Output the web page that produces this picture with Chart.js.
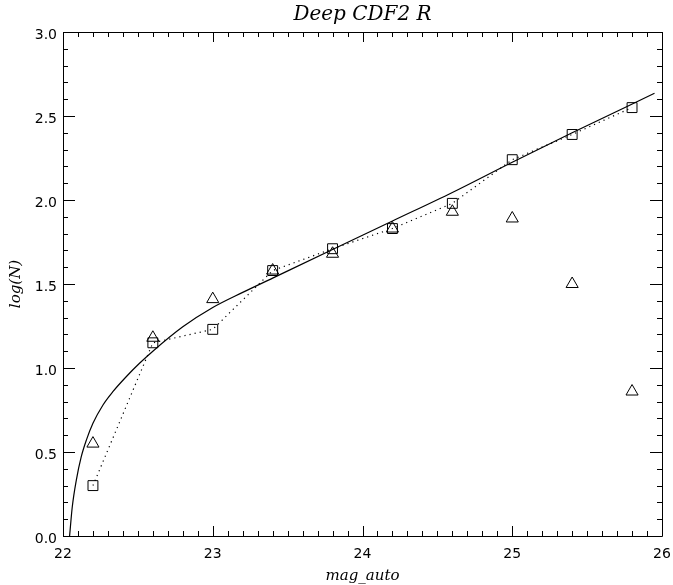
<!DOCTYPE html>
<html>
<head>
<meta charset="utf-8">
<script src="https://cdn.jsdelivr.net/npm/chart.js@4.4.1/dist/chart.umd.min.js"></script>
<style>
  html, body { margin: 0; padding: 0; background: #fff; }
  #chart { display: block; }
</style>
</head>
<body>
<canvas id="chart" width="673" height="585"></canvas>
<script>
// datos
const magBins = [22.2, 22.6, 23.0, 23.4, 23.8, 24.2, 24.6, 25.0, 25.4, 25.8];
const logNSquares = [0.30, 1.15, 1.23, 1.58, 1.71, 1.83, 1.98, 2.24, 2.39, 2.55];
const logNTriangles = [0.55, 1.18, 1.41, 1.58, 1.68, 1.83, 1.93, 1.89, 1.50, 0.86];
const fitMag = [22.044, 22.062, 22.089, 22.122, 22.156, 22.20, 22.267, 22.333, 22.422, 22.511, 22.60, 22.80, 23.0, 23.2, 23.4, 23.8, 24.2, 24.6, 25.0, 25.4, 25.95];
const fitLogN = [0.0, 0.174, 0.333, 0.472, 0.571, 0.671, 0.78, 0.859, 0.948, 1.028, 1.10, 1.245, 1.36, 1.45, 1.535, 1.705, 1.875, 2.045, 2.225, 2.40, 2.635];
const xTicks = [22, 23, 24, 25, 26];
const yTicks = [0.0, 0.5, 1.0, 1.5, 2.0, 2.5, 3.0];
const titulo = 'Deep CDF2 R';

const pts = (xs, ys) => xs.map((x, i) => ({ x, y: ys[i] }));

// ejes estilo IDL: marco, marcas hacia dentro y título centrado sobre el área
const idlFrame = {
  id: 'idlFrame',
  afterDatasetsDraw(chart) {
    const { ctx, chartArea: a, scales: { x, y } } = chart;
    ctx.save();
    ctx.strokeStyle = '#000';
    ctx.lineWidth = 1;
    ctx.beginPath();
    ctx.rect(Math.round(a.left) + 0.5, Math.round(a.top) + 0.5, Math.round(a.right - a.left), Math.round(a.bottom - a.top));
    for (let i = 0; i <= 40; i++) {
      const v = 22 + i * 0.1;
      const px = Math.round(x.getPixelForValue(v)) + 0.5;
      const len = i % 10 === 0 ? 10 : 5;
      ctx.moveTo(px, a.bottom); ctx.lineTo(px, a.bottom - len);
      ctx.moveTo(px, a.top); ctx.lineTo(px, a.top + len);
    }
    for (let i = 0; i <= 30; i++) {
      const v = i * 0.1;
      const py = Math.round(y.getPixelForValue(v)) + 0.5;
      const len = i % 5 === 0 ? 12 : 5;
      ctx.moveTo(a.left, py); ctx.lineTo(a.left + len, py);
      ctx.moveTo(a.right, py); ctx.lineTo(a.right - len, py);
    }
    ctx.stroke();

    ctx.fillStyle = '#000';
    ctx.font = 'italic 20px "DejaVu Serif"';
    ctx.textAlign = 'center';
    ctx.textBaseline = 'alphabetic';
    ctx.fillText(titulo, (a.left + a.right) / 2, 20);
    ctx.restore();
  }
};

new Chart(document.getElementById('chart'), {
  type: 'scatter',
  data: {
    datasets: [
      {
        label: 'fit',
        data: pts(fitMag, fitLogN),
        showLine: true,
        borderColor: '#000',
        borderWidth: 1.2,
        pointRadius: 0,
        cubicInterpolationMode: 'monotone'
      },
      {
        label: 'squares',
        data: pts(magBins, logNSquares),
        showLine: true,
        borderColor: '#000',
        borderWidth: 1.2,
        borderDash: [1.2, 4],
        pointStyle: 'rect',
        pointRadius: 7,
        pointBorderWidth: 1,
        pointBorderColor: '#000',
        pointBackgroundColor: 'rgba(0,0,0,0)'
      },
      {
        label: 'triangles',
        data: pts(magBins, logNTriangles),
        showLine: false,
        pointStyle: 'triangle',
        pointRadius: 7,
        pointBorderWidth: 1,
        pointBorderColor: '#000',
        pointBackgroundColor: 'rgba(0,0,0,0)'
      }
    ]
  },
  options: {
    responsive: false,
    animation: false,
    devicePixelRatio: 1,
    layout: { padding: { top: 32, right: 11, bottom: 0, left: 0 } },
    plugins: {
      legend: { display: false },
      tooltip: { enabled: false },
      title: { display: false }
    },
    scales: {
      x: {
        type: 'linear',
        min: 22, max: 26,
        afterBuildTicks: s => { s.ticks = xTicks.map(v => ({ value: v })); },
        afterFit: s => { s.height = 49; s.paddingLeft = 0; s.paddingRight = 0; },
        grid: { display: false, drawTicks: false },
        border: { display: false },
        ticks: {
          padding: 10,
          color: '#000',
          font: { family: 'DejaVu Sans', size: 14 },
          callback: v => String(v)
        },
        title: {
          display: true,
          text: 'mag_auto',
          color: '#000',
          font: { family: 'DejaVu Serif', style: 'italic', size: 15 },
          padding: { top: 0, bottom: 0 }
        }
      },
      y: {
        type: 'linear',
        min: 0, max: 3,
        afterBuildTicks: s => { s.ticks = yTicks.map(v => ({ value: v })); },
        afterFit: s => { s.width = 63; s.paddingTop = 0; s.paddingBottom = 0; },
        grid: { display: false, drawTicks: false },
        border: { display: false },
        ticks: {
          padding: 6,
          labelOffset: 3,
          color: '#000',
          font: { family: 'DejaVu Sans', size: 14 },
          callback: v => Number(v).toFixed(1)
        },
        title: {
          display: true,
          text: 'log(N)',
          color: '#000',
          font: { family: 'DejaVu Serif', style: 'italic', size: 15 },
          padding: { top: 7, bottom: 0 }
        }
      }
    }
  },
  plugins: [idlFrame]
});
</script>
</body>
</html>
